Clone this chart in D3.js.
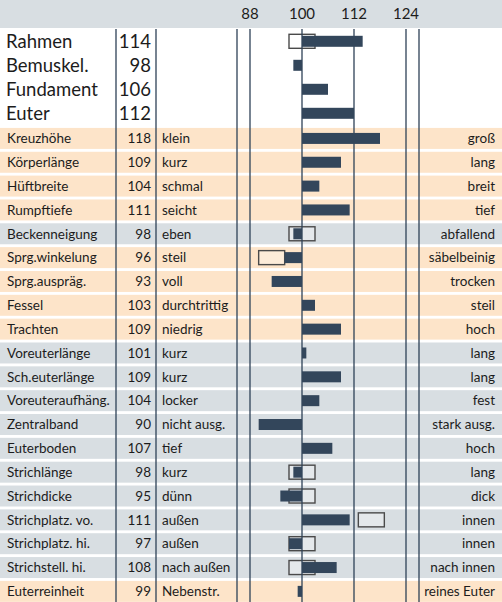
<!DOCTYPE html>
<html>
<head>
<meta charset="utf-8">
<script src="https://cdn.jsdelivr.net/npm/d3@7/dist/d3.min.js"></script>
<style>
  html, body { margin: 0; padding: 0; background: #fff; }
  svg { display: block; font-family: Lato, "Noto Sans", sans-serif; }
</style>
</head>
<body>
<svg id="chart" width="502" height="602"></svg>
<script>
// Summary traits (large rows)
const mainTraits = ["Rahmen", "Bemuskel.", "Fundament", "Euter"];
const mainValues = [114, 98, 106, 112];
const mainRanges = [[97, 103], null, null, null];

// Linear traits (small rows)
const traits = ["Kreuzhöhe", "Körperlänge", "Hüftbreite", "Rumpftiefe", "Beckenneigung",
  "Sprg.winkelung", "Sprg.auspräg.", "Fessel", "Trachten", "Voreuterlänge",
  "Sch.euterlänge", "Voreuteraufhäng.", "Zentralband", "Euterboden", "Strichlänge",
  "Strichdicke", "Strichplatz. vo.", "Strichplatz. hi.", "Strichstell. hi.", "Euterreinheit"];
const values = [118, 109, 104, 111, 98, 96, 93, 103, 109, 101, 109, 104, 90, 107, 98, 95, 111, 97, 108, 99];
const lowLabels = ["klein", "kurz", "schmal", "seicht", "eben", "steil", "voll", "durchtrittig",
  "niedrig", "kurz", "kurz", "locker", "nicht ausg.", "tief", "kurz", "dünn", "außen",
  "außen", "nach außen", "Nebenstr."];
const highLabels = ["groß", "lang", "breit", "tief", "abfallend", "säbelbeinig", "trocken", "steil",
  "hoch", "lang", "lang", "fest", "stark ausg.", "hoch", "lang", "dick", "innen", "innen",
  "nach innen", "reines Euter"];
const groups = ["body", "body", "body", "body", "udder", "body", "body", "body", "body", "udder",
  "udder", "udder", "udder", "udder", "udder", "udder", "udder", "udder", "udder", "body"];
const ranges = [null, null, null, null, [97, 103], [90, 96], null, null, null, null,
  null, null, null, null, [97, 103], [97, 103], [113, 119], [97, 103], [97, 103], null];

// Axis
const tickValues = [88, 100, 112, 124];
const domain = [85, 127];
const baseline = 100;

const W = 502, H = 602;
const svg = d3.select("#chart");

const bandFill = { body: "#fde4c9", udder: "#d8dee2" };
const barColor = "#33465b";
const lineColor = "#2e4157";
const textColor = "#1c1c1c";

const x = d3.scaleLinear().domain(domain).range([237, 419]);

// Row scales
const yMain = d3.scaleBand().domain(mainTraits).range([29.3, 125.3]);
const y = d3.scaleBand().domain(traits).range([126.5, 126.5 + 20 * 23.84])
  .paddingInner(0.12).paddingOuter(0.06);

// Header band
svg.append("rect").attr("x", 0).attr("y", 0).attr("width", W).attr("height", 28)
  .attr("fill", "#d8dee2");

svg.append("g").selectAll("text").data(tickValues).join("text")
  .attr("x", d => x(d)).attr("y", 14).attr("dy", "0.35em")
  .attr("text-anchor", "middle").attr("font-size", 15).attr("fill", textColor)
  .text(d => d);

// Row bands
const rows = traits.map((t, i) => ({
  name: t, value: values[i], low: lowLabels[i], high: highLabels[i],
  group: groups[i], range: ranges[i]
}));
const mains = mainTraits.map((t, i) => ({ name: t, value: mainValues[i], range: mainRanges[i] }));

svg.append("g").selectAll("rect").data(rows).join("rect")
  .attr("x", 0).attr("width", W)
  .attr("y", d => y(d.name)).attr("height", y.bandwidth())
  .attr("fill", d => bandFill[d.group]);

// Reference ranges (drawn beneath the bars)
function drawRanges(g, data, scale, h) {
  g.selectAll("rect").data(data.filter(d => d.range)).join("rect")
    .attr("x", d => x(d.range[0]))
    .attr("width", d => x(d.range[1]) - x(d.range[0]))
    .attr("y", d => scale(d.name) + scale.bandwidth() / 2 - h / 2)
    .attr("height", h)
    .attr("fill", "rgba(255,255,255,0.3)")
    .attr("stroke", "#4a4a4a").attr("stroke-width", 1.4);
}
drawRanges(svg.append("g"), mains, yMain, 14);
drawRanges(svg.append("g"), rows, y, 14);

// Vertical rules
const rules = [116, 156, x(domain[0]), ...tickValues.map(x), x(domain[1])];
svg.append("g").selectAll("line").data(rules).join("line")
  .attr("x1", d => d).attr("x2", d => d).attr("y1", 29).attr("y2", H)
  .attr("stroke", lineColor).attr("stroke-width", 1.3);

// Bars
function drawBars(g, data, scale, h) {
  g.selectAll("rect").data(data).join("rect")
    .attr("x", d => Math.min(x(d.value), x(baseline)))
    .attr("width", d => Math.abs(x(d.value) - x(baseline)))
    .attr("y", d => scale(d.name) + scale.bandwidth() / 2 - h / 2)
    .attr("height", h)
    .attr("fill", barColor);
}
drawBars(svg.append("g"), mains, yMain, 11);
drawBars(svg.append("g"), rows, y, 11);

// Text: main rows
const gm = svg.append("g").attr("font-size", 18.5).attr("fill", textColor);
gm.selectAll("text.n").data(mains).join("text").attr("class", "n")
  .attr("x", 6).attr("y", d => yMain(d.name) + yMain.bandwidth() / 2).attr("dy", "0.35em")
  .text(d => d.name);
gm.selectAll("text.v").data(mains).join("text").attr("class", "v")
  .attr("x", 151).attr("y", d => yMain(d.name) + yMain.bandwidth() / 2).attr("dy", "0.35em")
  .attr("text-anchor", "end").text(d => d.value);

// Text: trait rows
const gs = svg.append("g").attr("font-size", 13.5).attr("fill", textColor);
const cy = d => y(d.name) + y.bandwidth() / 2;
gs.selectAll("text.n").data(rows).join("text").attr("class", "n")
  .attr("x", 7).attr("y", cy).attr("dy", "0.35em").text(d => d.name);
gs.selectAll("text.v").data(rows).join("text").attr("class", "v")
  .attr("x", 151).attr("y", cy).attr("dy", "0.35em").attr("text-anchor", "end").text(d => d.value);
gs.selectAll("text.l").data(rows).join("text").attr("class", "l")
  .attr("x", 162).attr("y", cy).attr("dy", "0.35em").text(d => d.low);
gs.selectAll("text.h").data(rows).join("text").attr("class", "h")
  .attr("x", 495).attr("y", cy).attr("dy", "0.35em").attr("text-anchor", "end").text(d => d.high);
</script>
</body>
</html>
